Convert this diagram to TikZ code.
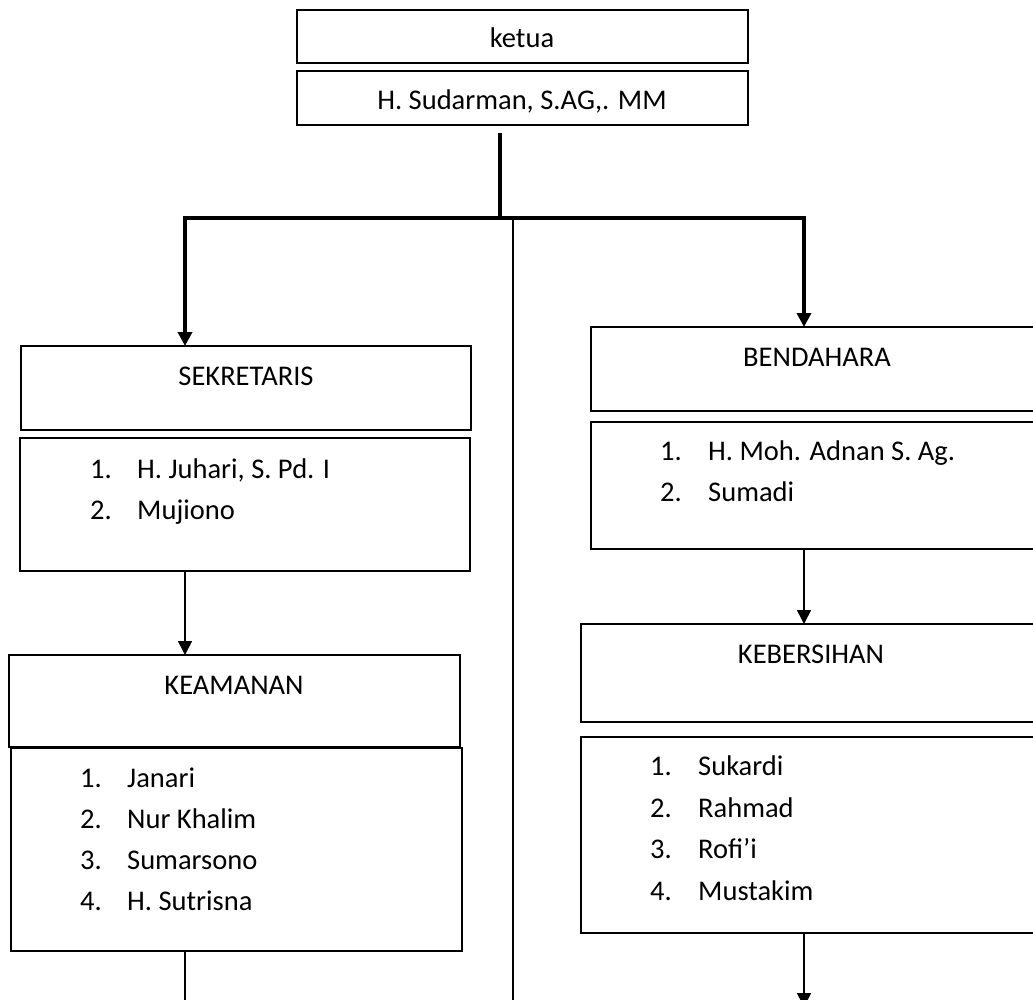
\documentclass[tikz,border=0pt]{standalone}
\usepackage{fontspec}
\setmainfont{Carlito}
\usetikzlibrary{arrows.meta}
\begin{document}
\begin{tikzpicture}[x=1pt,y=-1pt,
  boxstyle/.style={draw=black,line width=1.4pt,anchor=north west,inner sep=0pt,outer sep=0pt},
  txt/.style={inner sep=0pt,font=\fontsize{28.5}{40}\selectfont},
  thinarrow/.style={line width=1.6pt,-{Triangle[width=14pt,length=14pt]}},
  thickarrow/.style={line width=3.5pt,-{Triangle[width=14pt,length=14pt]}},
  thickline/.style={line width=3.5pt},
  thinline/.style={line width=1.6pt}]
\useasboundingbox (0,0) rectangle (1033,1000);
\clip (0,0) rectangle (1033,1000);
\fill[white] (0,0) rectangle (1033,1000);
% boxes
\node[boxstyle,minimum width=451pt,minimum height=53pt] (ketua) at (297,10) {};
\node[boxstyle,minimum width=451pt,minimum height=54pt] (sud) at (297,71) {};
\node[boxstyle,minimum width=450pt,minimum height=84pt] (sek) at (21,346) {};
\node[boxstyle,minimum width=450pt,minimum height=133pt] (sekmem) at (20,438) {};
\node[boxstyle,minimum width=451pt,minimum height=92pt] (keam) at (9,655) {};
\node[boxstyle,minimum width=451pt,minimum height=203pt] (keammem) at (11,748) {};
\node[boxstyle,minimum width=470pt,minimum height=84pt] (bend) at (591,327) {};
\node[boxstyle,minimum width=470pt,minimum height=127pt] (bendmem) at (591,422) {};
\node[boxstyle,minimum width=470pt,minimum height=98pt] (keber) at (581,624) {};
\node[boxstyle,minimum width=470pt,minimum height=196pt] (kebermem) at (581,737) {};
% titles
\node[txt,anchor=base] (tketua) at (522,48) {ketua};
\node[txt,anchor=base] (tsud) at (522,110) {H. Sudarman, S.AG,. MM};
\node[txt,anchor=base] (tsek) at (246,385) {SEKRETARIS};
\node[txt,anchor=base] (tkeam) at (234,694) {KEAMANAN};
\node[txt,anchor=base] (tbend) at (817,366) {BENDAHARA};
\node[txt,anchor=base] (tkeber) at (811,663) {KEBERSIHAN};
% members
\node[txt,anchor=base west] (s1n) at (90,478) {1.};
\node[txt,anchor=base west] (s1) at (137,478) {H. Juhari, S. Pd. I};
\node[txt,anchor=base west] (s2n) at (90,519) {2.};
\node[txt,anchor=base west] (s2) at (137,519) {Mujiono};
\node[txt,anchor=base west] (k1n) at (80,787) {1.};
\node[txt,anchor=base west] (k1) at (127,787) {Janari};
\node[txt,anchor=base west] (k2n) at (80,828) {2.};
\node[txt,anchor=base west] (k2) at (127,828) {Nur Khalim};
\node[txt,anchor=base west] (k3n) at (80,869) {3.};
\node[txt,anchor=base west] (k3) at (127,869) {Sumarsono};
\node[txt,anchor=base west] (k4n) at (80,910) {4.};
\node[txt,anchor=base west] (k4) at (127,910) {H. Sutrisna};
\node[txt,anchor=base west] (b1n) at (660,460) {1.};
\node[txt,anchor=base west] (b1) at (708,460) {H. Moh. Adnan S. Ag.};
\node[txt,anchor=base west] (b2n) at (660,501) {2.};
\node[txt,anchor=base west] (b2) at (708,501) {Sumadi};
\node[txt,anchor=base west] (e1n) at (650,775) {1.};
\node[txt,anchor=base west] (e1) at (698,775) {Sukardi};
\node[txt,anchor=base west] (e2n) at (650,817) {2.};
\node[txt,anchor=base west] (e2) at (698,817) {Rahmad};
\node[txt,anchor=base west] (e3n) at (650,858) {3.};
\node[txt,anchor=base west] (e3) at (698,858) {Rofi’i};
\node[txt,anchor=base west] (e4n) at (650,900) {4.};
\node[txt,anchor=base west] (e4) at (698,900) {Mustakim};
% reference coordinates
\coordinate (tx) at (500,133);
\coordinate (hub) at (500,218);
\coordinate (hl) at (185,218);
\coordinate (hr) at (804,218);
\coordinate (hc) at (513,218);
\coordinate (lx) at (185,0);
\coordinate (rx) at (804,0);
\coordinate (cbot) at (513,1002);
\coordinate (lbot) at (185,1002);
\coordinate (rbot) at (804,1007);
% connectors
\draw[thickline] (tx) -- (hub);
\draw[thickline] ([xshift=-1.75pt]hl) -- ([xshift=1.75pt]hr);
\draw[thickarrow] (hl) -- (sek.north -| lx);
\draw[thickarrow] (hr) -- (bend.north -| rx);
\draw[thinline] (hc) -- (cbot);
\draw[thinarrow] (sekmem.south -| lx) -- (keam.north -| lx);
\draw[thinline] (keammem.south -| lx) -- (lbot);
\draw[thinarrow] (bendmem.south -| rx) -- (keber.north -| rx);
\draw[thinarrow] (kebermem.south -| rx) -- (rbot);
\end{tikzpicture}
\end{document}
